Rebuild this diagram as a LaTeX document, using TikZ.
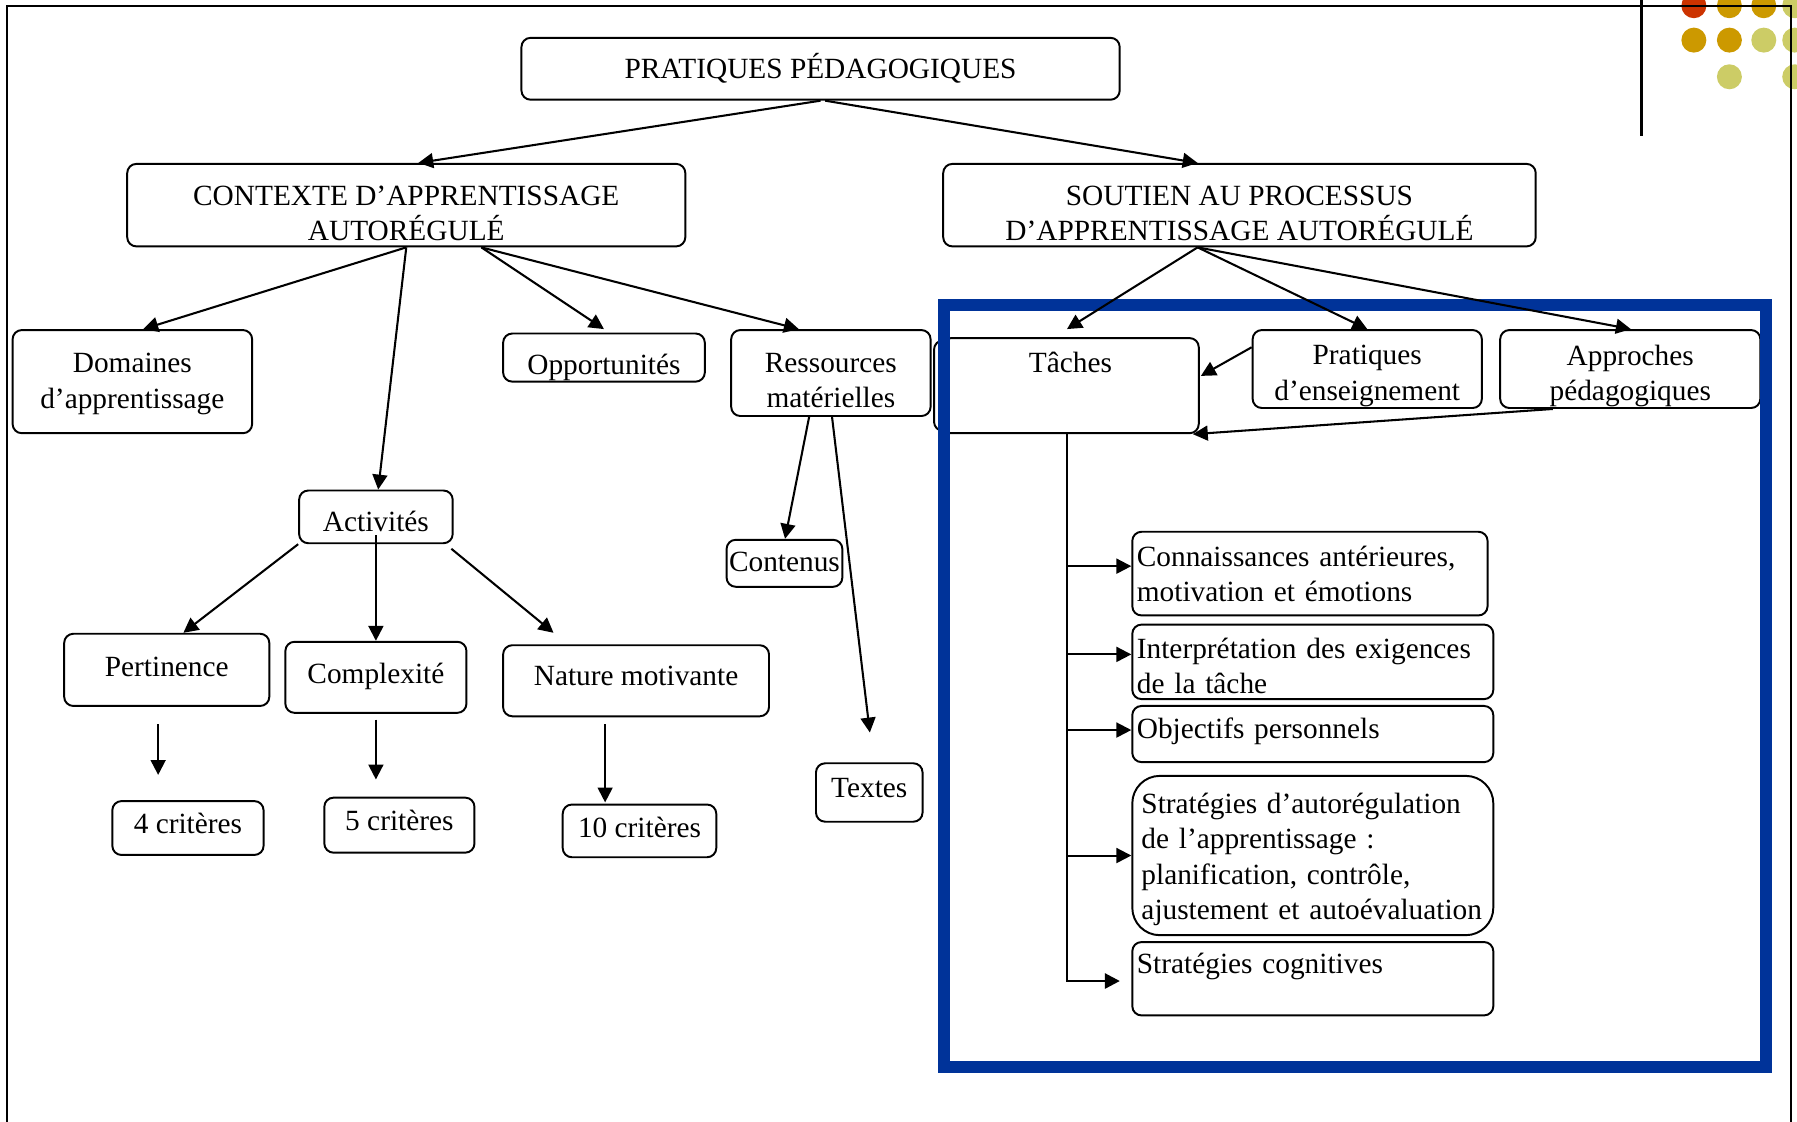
\documentclass[tikz,border=0pt]{standalone}
\usepackage{fontspec}
\setmainfont{Liberation Serif}
\usetikzlibrary{arrows.meta,calc}
\definecolor{frameblue}{RGB}{0,51,153}
\definecolor{dotred}{RGB}{204,51,0}
\definecolor{dotorange}{RGB}{204,153,0}
\definecolor{dotlight}{RGB}{204,204,102}
\newcommand\diafont{\fontsize{12.8pt}{15.4pt}\selectfont}
\begin{document}
\begin{tikzpicture}[x=0.5pt,y=-0.5pt,
  box/.style={draw, rounded corners=4pt, line width=0.85pt, fill=white, inner sep=0pt},
  txt/.style={font=\diafont, align=center, inner sep=0pt},
  ltxt/.style={font=\diafont, align=left, inner sep=0pt},
  arr/.style={-{Triangle[length=6.5pt,width=6.5pt]}, line width=0.9pt},
  dot/.style={radius=5.45pt}
]
\useasboundingbox (0,0) rectangle (1568,979);

% decorative dots
\fill[dotred]    (1478,5)  circle[dot];
\fill[dotorange] (1509,5)  circle[dot];
\fill[dotorange] (1539,5)  circle[dot];
\fill[dotlight]  (1566,5)  circle[dot];
\fill[dotorange] (1478,35) circle[dot];
\fill[dotorange] (1509,35) circle[dot];
\fill[dotlight]  (1539,35) circle[dot];
\fill[dotlight]  (1566,35) circle[dot];
\fill[dotlight]  (1509,67) circle[dot];
\fill[dotlight]  (1566,67) circle[dot];

% page frame
\draw[line width=1pt] (6,979) -- (6,5) -- (1563,5) -- (1563,979);
\draw[line width=1.3pt] (1432,0) -- (1432,119);

% boxes
\node[box, minimum width=261pt, minimum height=27pt,
  label={[txt]center:PRATIQUES PÉDAGOGIQUES}] (pp) at (716,60) {};
\node[box, minimum width=243.5pt, minimum height=36pt,
  label={[txt, yshift=-3.5pt]center:{CONTEXTE D’APPRENTISSAGE\\AUTORÉGULÉ}}] (ctx) at (354.5,179) {};
\node[box, minimum width=258.5pt, minimum height=36pt,
  label={[txt, yshift=-3.5pt]center:{SOUTIEN AU PROCESSUS\\D’APPRENTISSAGE AUTORÉGULÉ}}] (sou) at (1081.5,179) {};
\node[box, minimum width=104.5pt, minimum height=45pt,
  label={[txt, yshift=-1pt]center:{Domaines\\d’apprentissage}}] (dom) at (115.5,333) {};
\node[box, minimum width=88pt, minimum height=21pt,
  label={[txt, yshift=-4.5pt]center:Opportunités}] (opp) at (527,312) {};
\node[box, minimum width=87pt, minimum height=37.5pt,
  label={[txt, yshift=-3.25pt]center:{Ressources\\matérielles}}] (res) at (725,325.5) {};
\node[box, minimum width=97.5pt, minimum height=39.5pt] (tacb) at (912.5,336.5) {};
\node[box, minimum width=112pt, minimum height=41.5pt,
  label={[txt, yshift=10pt]center:Tâches}] (tac) at (934,336.5) {};
\node[box, minimum width=100pt, minimum height=34pt,
  label={[txt, yshift=-3pt]center:{Pratiques\\d’enseignement}}] (pra) at (1193,322) {};
\node[box, minimum width=113.5pt, minimum height=34pt,
  label={[txt, yshift=-3pt]center:{Approches\\pédagogiques}}] (app) at (1422.5,322) {};
\node[box, minimum width=67pt, minimum height=23pt,
  label={[txt, yshift=-2pt]center:Activités}] (act) at (328,451) {};
\node[box, minimum width=89.5pt, minimum height=31.5pt,
  label={[txt, yshift=1.5pt]center:Pertinence}] (per) at (145.5,584.5) {};
\node[box, minimum width=79pt, minimum height=31pt,
  label={[txt, yshift=0.5pt]center:Complexité}] (com) at (328,591) {};
\node[box, minimum width=116pt, minimum height=31pt,
  label={[txt, yshift=2pt]center:Nature motivante}] (nat) at (555,594) {};
\node[box, minimum width=66pt, minimum height=23.5pt,
  label={[txt, yshift=2pt]center:4 critères}] (c4) at (164,722.5) {};
\node[box, minimum width=65.5pt, minimum height=24pt,
  label={[txt, yshift=2pt]center:5 critères}] (c5) at (348.5,720) {};
\node[box, minimum width=67pt, minimum height=23pt,
  label={[txt, yshift=1.5pt]center:10 critères}] (c10) at (558,725) {};
\node[box, minimum width=50.5pt, minimum height=20.5pt,
  label={[txt, yshift=0.5pt]center:Contenus}] (cont) at (684.5,491.5) {};
\node[box, minimum width=46.5pt, minimum height=25.5pt,
  label={[txt, yshift=2pt]center:Textes}] (tex) at (758.5,691.5) {};

\node[box, minimum width=155pt, minimum height=36.5pt,
  label={[ltxt, text width=151pt]center:{Connaissances antérieures,\\motivation et émotions}}] (k1) at (1143,500.5) {};
\node[box, minimum width=157.5pt, minimum height=32.5pt,
  label={[ltxt, text width=153.5pt, yshift=-1.75pt]center:{Interprétation des exigences\\de la tâche}}] (k2) at (1145.5,577.5) {};
\node[box, minimum width=157.5pt, minimum height=24.5pt,
  label={[ltxt, text width=153.5pt, yshift=1pt]center:Objectifs personnels}] (k3) at (1145.5,640.5) {};
\node[box, rounded corners=12pt, minimum width=157.5pt, minimum height=69.5pt,
  label={[ltxt, text width=149.5pt, yshift=-1.75pt]center:{Stratégies d’autorégulation\\de l’apprentissage :\\planification, contrôle,\\ajustement et autoévaluation}}] (k4) at (1145.5,746.5) {};
\node[box, minimum width=157.5pt, minimum height=32pt,
  label={[ltxt, text width=153.5pt, yshift=5.5pt]center:Stratégies cognitives}] (k5) at (1145.5,854) {};

% blue frame
\draw[frameblue, line width=5.25pt] (824,266) rectangle (1541,931);

% connectors
\draw[arr] (pp.south) -- ($(ctx.north)+(10.5,0)$);
\draw[arr] ($(pp.south)+(4,0)$) -- ($(sou.north)+(-36.5,0)$);
\draw[arr] (ctx.south) -- ($(dom.north)+(9.5,0)$);
\draw[arr] (ctx.south) -- ($(act.north)+(2,0)$);
\draw[arr] ($(ctx.south)+(65.5,0)$) -- ($(opp.north)+(0,-3)$);
\draw[arr] ($(ctx.south)+(65.5,0)$) -- ($(res.north)+(-28,0)$);
\draw[arr] ($(sou.south)+(-36.5,0)$) -- ($(tac.north)+(-3,-7)$);
\draw[arr] ($(sou.south)+(-36.5,0)$) -- (pra.north);
\draw[arr] ($(sou.south)+(-36.5,0)$) -- ($(app.north)+(0.5,0)$);
\draw[arr] ($(pra.west)+(0,-19)$) -- ($(tac.east)+(1,-8.5)$);
\draw[arr] ($(app.south)+(-67.5,0)$) -- ($(tac.south east)+(-6,0)$);
\draw[arr] ($(res.south)+(-19,0)$) -- ($(cont.north)+(0.5,0)$);
\draw[arr] ($(res.south)+(1,0)$) -- ($(tex.north)+(0.5,-26)$);
\draw[arr] (act.south west) -- ($(per.north)+(14.5,0)$);
\draw[arr] ($(act.south)+(0,-8)$) -- (com.north);
\draw[arr] ($(act.south east)+(-2,4)$) -- ($(nat.north)+(-72,-10)$);
\draw[arr] ($(per.south)+(-7.5,15)$) -- ($(c4.north)+(-26,-22)$);
\draw[arr] ($(com.south)+(0,5)$) -- ($(c5.north)+(-20.5,-15)$);
\draw[arr] ($(nat.south)+(-27,6)$) -- ($(c10.north)+(-30,-1)$);

\coordinate (tb) at ($(tac.south)+(-3,0)$);
\coordinate (k1in) at ($(k1.west)+(0,-6.5)$);
\coordinate (k2in) at ($(k2.west)+(0,-6.5)$);
\coordinate (k3in) at ($(k3.west)+(0,-3.5)$);
\coordinate (k4in) at (k4.west);
\coordinate (k5in) at ($(k5.west)+(-10,2)$);
\draw[arr, line width=1.2pt] (tb) |- (k5in);
\draw[arr] (k1in -| tb) -- (k1in);
\draw[arr] (k2in -| tb) -- (k2in);
\draw[arr] (k3in -| tb) -- (k3in);
\draw[arr] (k4in -| tb) -- (k4in);
\end{tikzpicture}
\end{document}
